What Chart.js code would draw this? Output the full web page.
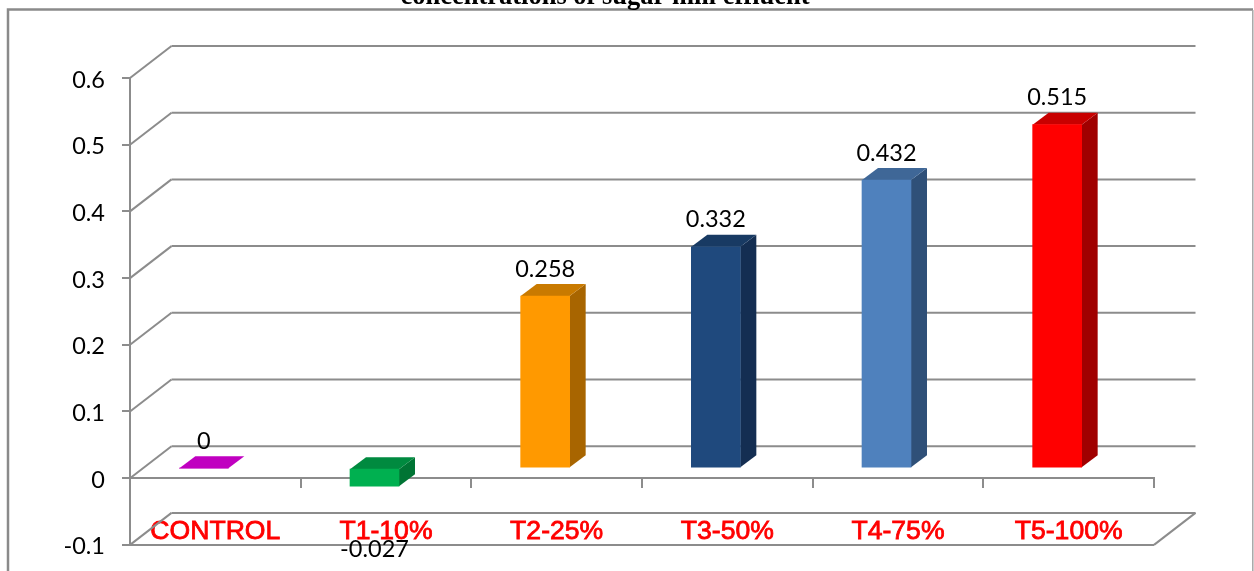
<!DOCTYPE html>
<html>
<head>
<meta charset="utf-8">
<style>
  html, body { margin: 0; padding: 0; background: #fff; overflow: hidden; }
  #wrap { position: absolute; left: 0; top: 0; width: 1254px; height: 571px; overflow: hidden; }
</style>
<script src="https://cdn.jsdelivr.net/npm/chart.js@4"></script>
</head>
<body>
<!-- canvas runs a little past the frame: the axis keeps room below the plot for its labels -->
<div id="wrap"><canvas id="sugarChart" width="1254" height="576"></canvas></div>
<script>
// treatments and absorbance values
const categories = ['CONTROL', 'T1-10%', 'T2-25%', 'T3-50%', 'T4-75%', 'T5-100%'];
const seriesValues = [0, -0.027, 0.258, 0.332, 0.432, 0.515];
const valueLabels = ['0', '-0.027', '0.258', '0.332', '0.432', '0.515'];
const yTicks = [-0.1, 0, 0.1, 0.2, 0.3, 0.4, 0.5, 0.6];
const titleText = 'concentrations of sugar mill effluent';

// front, top and side face of each column
const frontColors = ['#c000c0', '#00b050', '#ff9900', '#1f497d', '#4f81bd', '#ff0000'];
const topColors = ['#c000c0', '#008a3f', '#c97a00', '#183a63', '#3f6797', '#c80000'];
const sideColors = ['#c000c0', '#007434', '#a86500', '#142e52', '#2f5078', '#a00000'];

const gridColor = '#8c8c8c';
const depthX = 41.5, depthY = -32;     // wall depth
const barShiftX = -11.5, barShiftY = -10;  // columns sit inside the floor
const barDepthX = 16, barDepthY = -12;

function line(ctx, x1, y1, x2, y2) {
    ctx.beginPath();
    ctx.moveTo(x1, y1);
    ctx.lineTo(x2, y2);
    ctx.stroke();
}

// back wall, floor and outer frame
const wallPlugin = {
    id: 'wall',
    beforeDatasetsDraw(chart) {
        const ctx = chart.ctx, y = chart.scales.y, x0 = chart.chartArea.left, x1 = chart.chartArea.right;
        ctx.save();
        ctx.strokeStyle = gridColor;
        ctx.lineWidth = 2;
        yTicks.forEach(v => {
            const py = y.getPixelForValue(v);
            line(ctx, x0, py, x0 + depthX, py + depthY);
            line(ctx, x0 + depthX, py + depthY, x1 + depthX, py + depthY);
        });
        // front edge of the lower floor
        const low = y.getPixelForValue(-0.1);
        line(ctx, x0, low, x1, low);
        line(ctx, x1, low, x1 + depthX, low + depthY);
        // outer frame, lighter on the right
        ctx.strokeStyle = '#8a8a8a';
        ctx.lineWidth = 2.5;
        ctx.beginPath();
        ctx.moveTo(8, 576);
        ctx.lineTo(8, 9.5);
        ctx.lineTo(1253, 9.5);
        ctx.stroke();
        ctx.strokeStyle = '#a6a6a6';
        ctx.lineWidth = 1.5;
        line(ctx, 1252.8, 10, 1252.8, 576);
        ctx.restore();

        ctx.save();
        ctx.fillStyle = '#000';
        ctx.font = 'bold 26.5px "Liberation Serif"';
        ctx.textAlign = 'center';
        ctx.textBaseline = 'alphabetic';
        ctx.fillText(titleText, 605, 4);
        ctx.restore();
    }
};

// side and top faces, then the front bars drawn by the controller
const columnPlugin = {
    id: 'columns',
    beforeDatasetsDraw(chart) {
        const ctx = chart.ctx, meta = chart.getDatasetMeta(0);
        ctx.save();
        ctx.translate(barShiftX, barShiftY);
        meta.data.forEach((bar, i) => {
            const p = bar.getProps(['x', 'y', 'base', 'width'], true);
            const l = p.x - p.width / 2, r = p.x + p.width / 2;
            const top = Math.min(p.y, p.base), bottom = Math.max(p.y, p.base);
            ctx.fillStyle = sideColors[i];
            ctx.beginPath();
            ctx.moveTo(r, top);
            ctx.lineTo(r + barDepthX, top + barDepthY);
            ctx.lineTo(r + barDepthX, bottom + barDepthY);
            ctx.lineTo(r, bottom);
            ctx.closePath();
            ctx.fill();
            ctx.fillStyle = topColors[i];
            ctx.beginPath();
            ctx.moveTo(l, top);
            ctx.lineTo(l + barDepthX, top + barDepthY);
            ctx.lineTo(r + barDepthX, top + barDepthY);
            ctx.lineTo(r, top);
            ctx.closePath();
            ctx.fill();
        });
    },
    afterDatasetsDraw(chart) {
        const ctx = chart.ctx, meta = chart.getDatasetMeta(0);
        ctx.restore();
        // value labels
        ctx.save();
        ctx.fillStyle = '#000';
        ctx.font = '23.5px Lato';
        ctx.textAlign = 'center';
        ctx.textBaseline = 'middle';
        meta.data.forEach((bar, i) => {
            const p = bar.getProps(['x', 'y'], true);
            if (seriesValues[i] < 0) {
                ctx.fillText(valueLabels[i], p.x + barShiftX, p.y + 63 + barShiftY);
            } else {
                ctx.fillText(valueLabels[i], p.x + barShiftX, p.y - 27 + barShiftY);
            }
        });
        ctx.restore();
    }
};

const ctx = document.getElementById('sugarChart').getContext('2d');
const sugarChart = new Chart(ctx, {
    type: 'bar',
    data: {
        labels: categories,
        datasets: [{
            data: seriesValues,
            backgroundColor: frontColors,
            barThickness: 49,
            clip: false
        }]
    },
    options: {
        responsive: false,
        animation: false,
        layout: { padding: { left: 0, right: 100, top: 78, bottom: 26 } },
        plugins: { legend: { display: false }, tooltip: { enabled: false } },
        scales: {
            x: {
                position: { y: 0 },
                grid: { drawOnChartArea: false, color: gridColor, lineWidth: 2, tickLength: 9, offset: true },
                border: { color: gridColor, width: 2 },
                ticks: {
                    color: '#ff0000', padding: 28, maxRotation: 0,
                    textStrokeColor: '#ff0000', textStrokeWidth: 0.8,
                    font: { family: '"Liberation Sans"', size: 26.6 }
                }
            },
            y: {
                min: -0.1,
                max: 0.6,
                afterFit(scale) { scale.width = 130; },
                afterBuildTicks(scale) { scale.ticks = yTicks.map(v => ({ value: v })); },
                grid: { drawOnChartArea: false, color: gridColor, lineWidth: 2, tickLength: 8 },
                border: { color: gridColor, width: 2 },
                ticks: { color: '#000', padding: 17, labelOffset: 2, font: { family: 'Lato', size: 23.5 }, callback: v => String(v) }
            }
        }
    },
    plugins: [wallPlugin, columnPlugin]
});
</script>
</body>
</html>
